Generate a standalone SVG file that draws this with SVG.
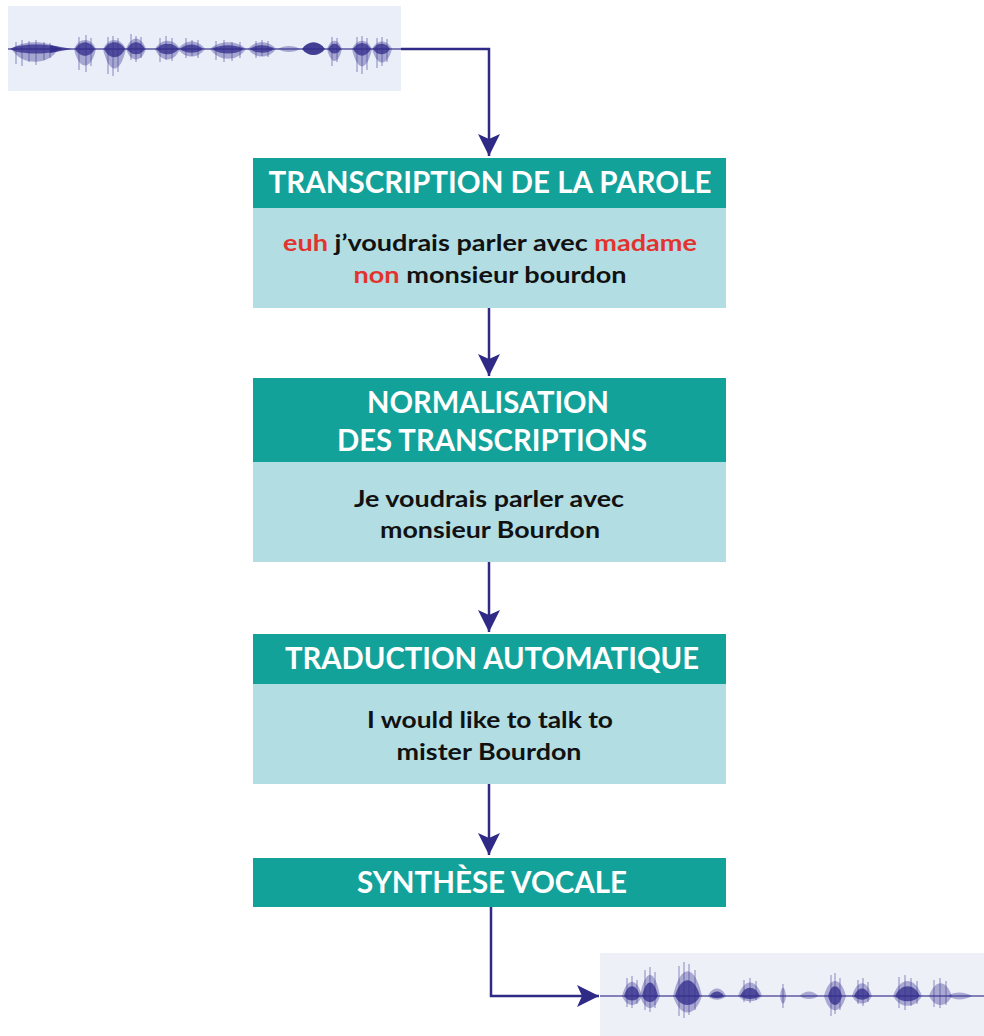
<svg xmlns="http://www.w3.org/2000/svg" width="984" height="1036" viewBox="0 0 984 1036">
<style>
.hdr{fill:#13a29a}
.body{fill:#b2dde2}
.ht{font-family:Lato,"Open Sans",sans-serif;font-weight:700;font-size:30px;fill:#ffffff;text-anchor:middle}
.bt{font-family:Lato,"Open Sans",sans-serif;font-weight:700;font-size:22px;fill:#111111;text-anchor:middle}
.red{fill:#e2332f}
.conn{fill:none;stroke:#2e2a85;stroke-width:2.5}
.wl{fill:#3b3591;opacity:0.38}
.wd{fill:#302b8a;opacity:0.75}
.wline{stroke:#3b3591;stroke-width:1.6;opacity:0.8}
.sp{stroke:#3b3591;stroke-width:1.6;opacity:0.35;fill:none}
</style>
<defs>
<marker id="arr" markerUnits="userSpaceOnUse" markerWidth="26" markerHeight="24" refX="22" refY="11" orient="auto">
<path d="M22 11 L0 0 L5 11 L0 22 Z" fill="#2e2a85"/>
</marker>
</defs>

<g id="wave-in">
<rect x="8" y="6" width="393" height="85" fill="#e9eef8"/>
<line class="wline" x1="8" y1="49" x2="401" y2="49"/>
<path class="wl" d="M12 49 C20 40 50 40 58 49 C50 66 20 66 12 49Z"/>
<path class="wd" d="M10 49 C18 43 54 43 62 49 C54 55 18 55 10 49Z"/>
<path class="wd" d="M50 45 L72 49 L50 53Z"/>
<path class="wl" d="M74 49 C79 37 91 37 96 49 C91 71 79 71 74 49Z"/>
<path class="wd" d="M75 49 C80 40 90 40 95 49 C90 58 80 58 75 49Z"/>
<path class="wl" d="M103 49 C109 37 120 37 126 49 C120 75 109 75 103 49Z"/>
<path class="wd" d="M104 49 C109 40 120 40 125 49 C120 60 109 60 104 49Z"/>
<path class="wl" d="M126 49 C131 35 141 35 146 49 C141 63 131 63 126 49Z"/>
<path class="wd" d="M127 49 C131 40 141 40 145 49 C141 56 131 56 127 49Z"/>
<path class="wl" d="M155 49 C161 38 174 38 180 49 C174 63 161 63 155 49Z"/>
<path class="wd" d="M156 49 C162 42 173 42 179 49 C173 56 162 56 156 49Z"/>
<path class="wl" d="M178 49 C185 39 198 39 205 49 C198 59 185 59 178 49Z"/>
<path class="wd" d="M180 49 C186 43 197 43 203 49 C197 54 186 54 180 49Z"/>
<path class="wl" d="M210 49 C219 40 237 40 246 49 C237 62 219 62 210 49Z"/>
<path class="wd" d="M212 49 C220 44 236 44 244 49 C236 55 220 55 212 49Z"/>
<path class="wl" d="M248 49 C255 40 269 40 276 49 C269 59 255 59 248 49Z"/>
<path class="wd" d="M250 49 C256 44 268 44 274 49 C268 54 256 54 250 49Z"/>
<path class="wl" d="M278 49 C284 45 294 45 300 49 C294 53 284 53 278 49Z"/>
<path class="wd" style="opacity:0.9" d="M302 49 C308 40 319 40 325 49 C319 57 308 57 302 49Z"/>
<path class="wl" d="M327 49 C331 38 338 38 342 49 C338 65 331 65 327 49Z"/>
<path class="wd" d="M328 49 C331 42 338 42 341 49 C338 55 331 55 328 49Z"/>
<path class="wl" d="M352 49 C357 38 367 38 372 49 C367 72 357 72 352 49Z"/>
<path class="wd" d="M353 49 C358 41 366 41 371 49 C366 58 358 58 353 49Z"/>
<path class="wl" d="M372 49 C377 39 387 39 392 49 C387 67 377 67 372 49Z"/>
<path class="wd" d="M373 49 C377 42 386 42 390 49 C386 56 377 56 373 49Z"/>
<path class="sp" d="M16 42V64 M22 40V66 M29 41V62 M36 40V65 M44 42V60 M50 43V58 M79 37V70 M86 35V72 M91 38V66 M108 37V74 M113 36V76 M118 38V72 M131 34V60 M136 36V62 M141 37V58 M160 38V62 M166 36V60 M172 38V61 M186 38V58 M192 40V56 M198 40V58 M216 41V60 M224 40V62 M232 42V61 M240 42V58 M256 41V58 M262 40V56 M268 41V57 M332 37V66 M337 38V62 M357 37V72 M362 36V74 M367 38V70 M377 38V68 M382 37V66 M387 39V62"/>
</g>

<g id="wave-out">
<rect x="600" y="953" width="384" height="83" fill="#eef0f8"/>
<line class="wline" x1="600" y1="996" x2="984" y2="996"/>
<path class="wl" d="M622 996 C627 977 637 977 642 996 C637 1008 627 1008 622 996Z"/>
<path class="wd" d="M624 996 C628 983 636 983 640 996 C636 1002 628 1002 624 996Z"/>
<path class="wl" d="M640 996 C645 968 655 968 660 996 C655 1012 645 1012 640 996Z"/>
<path class="wd" d="M642 996 C646 978 654 978 658 996 C654 1004 646 1004 642 996Z"/>
<path class="wl" d="M673 996 C680 963 695 963 702 996 C695 1018 680 1018 673 996Z"/>
<path class="wd" d="M675 996 C681 975 694 975 700 996 C694 1008 681 1008 675 996Z"/>
<path class="wl" d="M708 996 C712 986 722 986 726 996 C722 1001 712 1001 708 996Z"/>
<path class="wd" d="M710 996 C713 990 721 990 724 996 C721 999 713 999 710 996Z"/>
<path class="wl" d="M738 996 C744 978 756 978 762 996 C756 1003 744 1003 738 996Z"/>
<path class="wd" d="M740 996 C745 985 755 985 760 996 C755 1000 745 1000 740 996Z"/>
<path class="wl" d="M780 996 C781 985 785 985 786 996 C785 1006 781 1006 780 996Z"/>
<path class="wl" d="M800 996 C804 990 814 990 818 996 C814 1000 804 1000 800 996Z"/>
<path class="wl" d="M824 996 C829 976 841 976 846 996 C841 1015 829 1015 824 996Z"/>
<path class="wd" d="M828 996 C831 983 839 983 842 996 C839 1008 831 1008 828 996Z"/>
<path class="wl" d="M852 996 C857 979 867 979 872 996 C867 1006 857 1006 852 996Z"/>
<path class="wd" d="M854 996 C858 986 866 986 870 996 C866 1001 858 1001 854 996Z"/>
<path class="wl" d="M893 996 C900 976 915 976 922 996 C915 1009 900 1009 893 996Z"/>
<path class="wd" d="M895 996 C901 983 914 983 920 996 C914 1003 901 1003 895 996Z"/>
<path class="wl" d="M929 996 C935 979 946 979 952 996 C946 1008 935 1008 929 996Z"/>
<path class="wl" d="M948 996 C955 991 965 992 972 996 C965 1000 955 1001 948 996Z"/>
<path class="sp" d="M627 978V1007 M632 976V1008 M637 980V1004 M645 970V1010 M650 967V1012 M655 972V1008 M679 966V1016 M684 962V1018 M689 964V1015 M695 970V1010 M744 980V1002 M750 978V1003 M756 981V1000 M783 984V1008 M831 975V1016 M835 973V1014 M840 978V1010 M858 980V1004 M863 978V1006 M868 982V1002 M899 977V1008 M905 975V1010 M911 978V1006 M917 981V1004 M934 980V1007 M940 978V1008 M946 981V1005"/>
</g>

<g id="connectors">
<path class="conn" d="M401 49 H489 V156" marker-end="url(#arr)"/>
<line class="conn" x1="489" y1="308" x2="489" y2="376" marker-end="url(#arr)"/>
<line class="conn" x1="489" y1="562" x2="489" y2="632" marker-end="url(#arr)"/>
<line class="conn" x1="489" y1="784" x2="489" y2="855" marker-end="url(#arr)"/>
<path class="conn" d="M491 907 V996 H599" marker-end="url(#arr)"/>
</g>

<g id="node-transcription">
<rect class="hdr" x="253" y="158" width="473" height="50"/>
<rect class="body" x="253" y="208" width="473" height="100"/>
<text class="ht" x="490" y="193" textLength="443" lengthAdjust="spacingAndGlyphs">TRANSCRIPTION DE LA PAROLE</text>
<text class="bt" x="490" y="251" textLength="414" lengthAdjust="spacingAndGlyphs"><tspan class="red">euh</tspan> j’voudrais parler avec <tspan class="red">madame</tspan></text>
<text class="bt" x="490" y="283" textLength="273" lengthAdjust="spacingAndGlyphs"><tspan class="red">non</tspan> monsieur bourdon</text>
</g>

<g id="node-normalisation">
<rect class="hdr" x="253" y="378" width="473" height="84"/>
<rect class="body" x="253" y="462" width="473" height="100"/>
<text class="ht" x="488" y="413" textLength="242" lengthAdjust="spacingAndGlyphs">NORMALISATION</text>
<text class="ht" x="492" y="451" textLength="310" lengthAdjust="spacingAndGlyphs">DES TRANSCRIPTIONS</text>
<text class="bt" x="489" y="507" textLength="270" lengthAdjust="spacingAndGlyphs">Je voudrais parler avec</text>
<text class="bt" x="490" y="538" textLength="220" lengthAdjust="spacingAndGlyphs">monsieur Bourdon</text>
</g>

<g id="node-traduction">
<rect class="hdr" x="253" y="634" width="473" height="50"/>
<rect class="body" x="253" y="684" width="473" height="100"/>
<text class="ht" x="492" y="669" textLength="414" lengthAdjust="spacingAndGlyphs">TRADUCTION AUTOMATIQUE</text>
<text class="bt" x="490" y="728" textLength="246" lengthAdjust="spacingAndGlyphs">I would like to talk to</text>
<text class="bt" x="489" y="760" textLength="185" lengthAdjust="spacingAndGlyphs">mister Bourdon</text>
</g>

<g id="node-synthese">
<rect class="hdr" x="253" y="858" width="473" height="49"/>
<text class="ht" x="492" y="893" textLength="270" lengthAdjust="spacingAndGlyphs">SYNTHÈSE VOCALE</text>
</g>
</svg>
